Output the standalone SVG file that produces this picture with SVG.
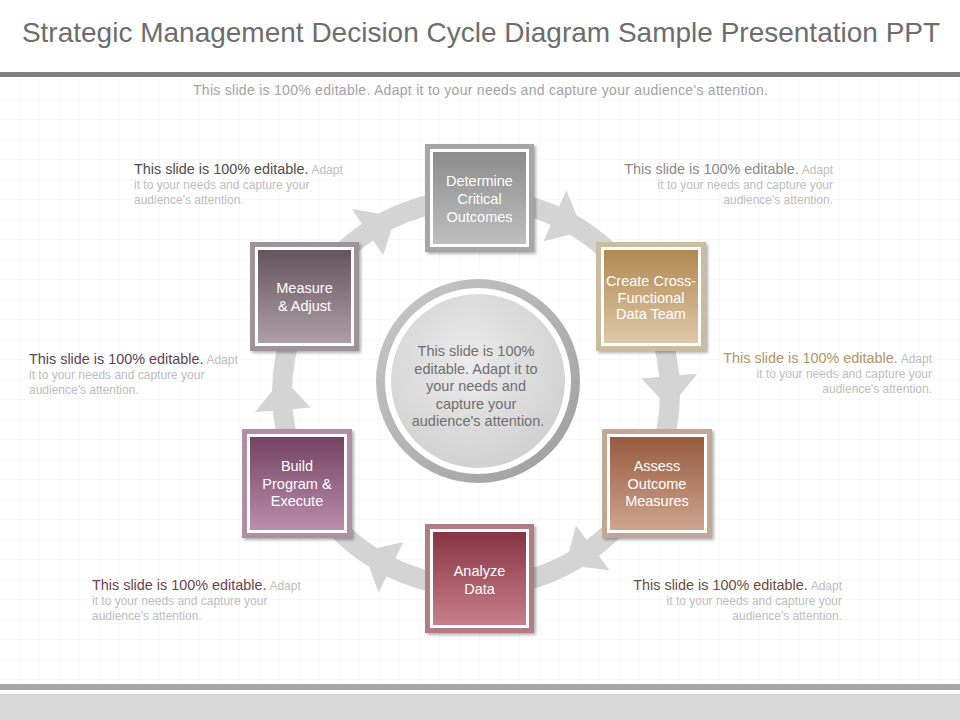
<svg xmlns="http://www.w3.org/2000/svg" width="960" height="720" viewBox="0 0 960 720">
<style>
.t{font-family:"Liberation Sans",Arial,sans-serif}
.nt{font-family:"Liberation Sans",Arial,sans-serif;font-size:14.5px;fill:#ffffff;text-anchor:middle}
.h{font-size:14.4px}
.l{font-size:12px;fill:#bdbdbd}
.wb{fill:#ffffff}
</style>
<defs>
<pattern id="grid" width="20" height="20" patternUnits="userSpaceOnUse">
<path d="M20 0V20M0 20H20" fill="none" stroke="#f2f2f2" stroke-width="1"/>
</pattern>
<filter id="sh" x="-10%" y="-10%" width="125%" height="125%">
<feDropShadow dx="2" dy="2" stdDeviation="1.5" flood-color="#000" flood-opacity="0.3"/>
</filter>
<linearGradient id="g1" x1="0" y1="0" x2="0" y2="1"><stop offset="0" stop-color="#8c8c8c"/><stop offset="1" stop-color="#bfbfbf"/></linearGradient>
<linearGradient id="g2" x1="0" y1="0" x2="0" y2="1"><stop offset="0" stop-color="#b08851"/><stop offset="1" stop-color="#dfc8a8"/></linearGradient>
<linearGradient id="g3" x1="0" y1="0" x2="0" y2="1"><stop offset="0" stop-color="#975b3f"/><stop offset="1" stop-color="#cfa48e"/></linearGradient>
<linearGradient id="g4" x1="0" y1="0" x2="0" y2="1"><stop offset="0" stop-color="#873443"/><stop offset="1" stop-color="#c87f89"/></linearGradient>
<linearGradient id="g5" x1="0" y1="0" x2="0" y2="1"><stop offset="0" stop-color="#744264"/><stop offset="1" stop-color="#ba8eaa"/></linearGradient>
<linearGradient id="g6" x1="0" y1="0" x2="0" y2="1"><stop offset="0" stop-color="#64555d"/><stop offset="1" stop-color="#ae9fa6"/></linearGradient>
<linearGradient id="ring" x1="0" y1="0" x2="1" y2="1"><stop offset="0" stop-color="#c9c9c9"/><stop offset="1" stop-color="#9d9d9d"/></linearGradient>
<radialGradient id="disc" cx="0.45" cy="0.4" r="0.65"><stop offset="0" stop-color="#ececec"/><stop offset="1" stop-color="#cfcfcf"/></radialGradient>
<path id="ah" d="M641.4 378.5L697.2 373.7L669.4 408.2Z" fill="#d4d4d4"/>
</defs>

<rect width="960" height="720" fill="#ffffff"/>
<rect x="0" y="78" width="960" height="604" fill="url(#grid)"/>

<text class="t" x="481" y="42" font-size="28" fill="#6d6d6d" text-anchor="middle">Strategic Management Decision Cycle Diagram Sample Presentation PPT</text>
<rect x="0" y="72" width="960" height="5" fill="#808080"/>
<text class="t" x="193" y="95" font-size="14" fill="#a3a3a3" textLength="575">This slide is 100% editable. Adapt it to your needs and capture your audience's attention.</text>

<g id="connectors">
<circle cx="476" cy="393" r="194" fill="none" stroke="#d4d4d4" stroke-width="20"/>
<use href="#ah" transform="rotate(-119 476 393)"/>
<use href="#ah" transform="rotate(-61 476 393)"/>
<use href="#ah"/>
<use href="#ah" transform="rotate(58 476 393)"/>
<use href="#ah" transform="rotate(121 476 393)"/>
<use href="#ah" transform="rotate(180 476 393)"/>
</g>

<g id="center">
<circle cx="478" cy="381" r="102" fill="url(#ring)"/>
<circle cx="478" cy="381" r="93" fill="#ffffff"/>
<circle cx="478" cy="381" r="87" fill="url(#disc)"/>
<text class="t" font-size="14.5" fill="#6f6f6f" text-anchor="middle">
<tspan x="478" y="356">This slide is 100%</tspan>
<tspan x="478" y="373.5">editable. Adapt it to</tspan>
<tspan x="478" y="391">your needs and</tspan>
<tspan x="478" y="408.5">capture your</tspan>
<tspan x="478" y="426">audience's attention.</tspan>
</text>
</g>

<g id="n1">
<rect x="425" y="144" width="109" height="108" fill="#a6a6a6" filter="url(#sh)"/>
<rect x="430" y="149" width="99" height="98" class="wb"/>
<rect x="433" y="152" width="93" height="92" fill="url(#g1)"/>
<text class="nt"><tspan x="479.5" y="186">Determine</tspan><tspan x="479.5" y="204">Critical</tspan><tspan x="479.5" y="222">Outcomes</tspan></text>
</g>

<g id="n2">
<rect x="596" y="242" width="110" height="109" fill="#cbbb9f" filter="url(#sh)"/>
<rect x="601" y="247" width="100" height="99" class="wb"/>
<rect x="604" y="250" width="94" height="93" fill="url(#g2)"/>
<text class="nt" font-size="14"><tspan x="651" y="286">Create Cross-</tspan><tspan x="651" y="302.5">Functional</tspan><tspan x="651" y="319">Data Team</tspan></text>
</g>

<g id="n3">
<rect x="602" y="429" width="110" height="109" fill="#c4a697" filter="url(#sh)"/>
<rect x="607" y="434" width="100" height="99" class="wb"/>
<rect x="610" y="437" width="94" height="93" fill="url(#g3)"/>
<text class="nt"><tspan x="657" y="471">Assess</tspan><tspan x="657" y="489">Outcome</tspan><tspan x="657" y="506">Measures</tspan></text>
</g>

<g id="n4">
<rect x="425" y="524" width="109" height="109" fill="#b17b83" filter="url(#sh)"/>
<rect x="430" y="529" width="99" height="99" class="wb"/>
<rect x="433" y="532" width="93" height="93" fill="url(#g4)"/>
<text class="nt"><tspan x="479.5" y="576">Analyze</tspan><tspan x="479.5" y="594">Data</tspan></text>
</g>

<g id="n5">
<rect x="242" y="429" width="110" height="109" fill="#b28ea6" filter="url(#sh)"/>
<rect x="247" y="434" width="100" height="99" class="wb"/>
<rect x="250" y="437" width="94" height="93" fill="url(#g5)"/>
<text class="nt"><tspan x="297" y="471">Build</tspan><tspan x="297" y="489">Program &amp;</tspan><tspan x="297" y="506">Execute</tspan></text>
</g>

<g id="n6">
<rect x="250" y="242" width="109" height="109" fill="#9d9498" filter="url(#sh)"/>
<rect x="255" y="247" width="99" height="99" class="wb"/>
<rect x="258" y="250" width="93" height="93" fill="url(#g6)"/>
<text class="nt"><tspan x="304.5" y="293">Measure</tspan><tspan x="304.5" y="311">&amp; Adjust</tspan></text>
</g>

<g id="txt-tl" class="t">
<text x="134" y="174"><tspan class="h" fill="#4d4d4d">This slide is 100% editable.</tspan><tspan class="l" dx="3">Adapt</tspan></text>
<text class="l" x="134" y="189">it to your needs and capture your</text>
<text class="l" x="134" y="204">audience's attention.</text>
</g>
<g id="txt-tr" class="t" text-anchor="end">
<text x="833" y="174"><tspan class="h" fill="#8a8a8a">This slide is 100% editable.</tspan><tspan class="l" dx="3">Adapt</tspan></text>
<text class="l" x="833" y="189">it to your needs and capture your</text>
<text class="l" x="833" y="204">audience's attention.</text>
</g>
<g id="txt-ml" class="t">
<text x="29" y="364"><tspan class="h" fill="#5e3f55">This slide is 100% editable.</tspan><tspan class="l" dx="3">Adapt</tspan></text>
<text class="l" x="29" y="379">it to your needs and capture your</text>
<text class="l" x="29" y="394">audience's attention.</text>
</g>
<g id="txt-mr" class="t" text-anchor="end">
<text x="932" y="363"><tspan class="h" fill="#b39466">This slide is 100% editable.</tspan><tspan class="l" dx="3">Adapt</tspan></text>
<text class="l" x="932" y="378">it to your needs and capture your</text>
<text class="l" x="932" y="393">audience's attention.</text>
</g>
<g id="txt-bl" class="t">
<text x="92" y="590"><tspan class="h" fill="#6e3e4e">This slide is 100% editable.</tspan><tspan class="l" dx="3">Adapt</tspan></text>
<text class="l" x="92" y="605">it to your needs and capture your</text>
<text class="l" x="92" y="620">audience's attention.</text>
</g>
<g id="txt-br" class="t" text-anchor="end">
<text x="842" y="590"><tspan class="h" fill="#6b4a3c">This slide is 100% editable.</tspan><tspan class="l" dx="3">Adapt</tspan></text>
<text class="l" x="842" y="605">it to your needs and capture your</text>
<text class="l" x="842" y="620">audience's attention.</text>
</g>

<rect x="0" y="684" width="960" height="6" fill="#a6a6a6"/>
<rect x="0" y="694" width="960" height="26" fill="#d9d9d9"/>
</svg>
